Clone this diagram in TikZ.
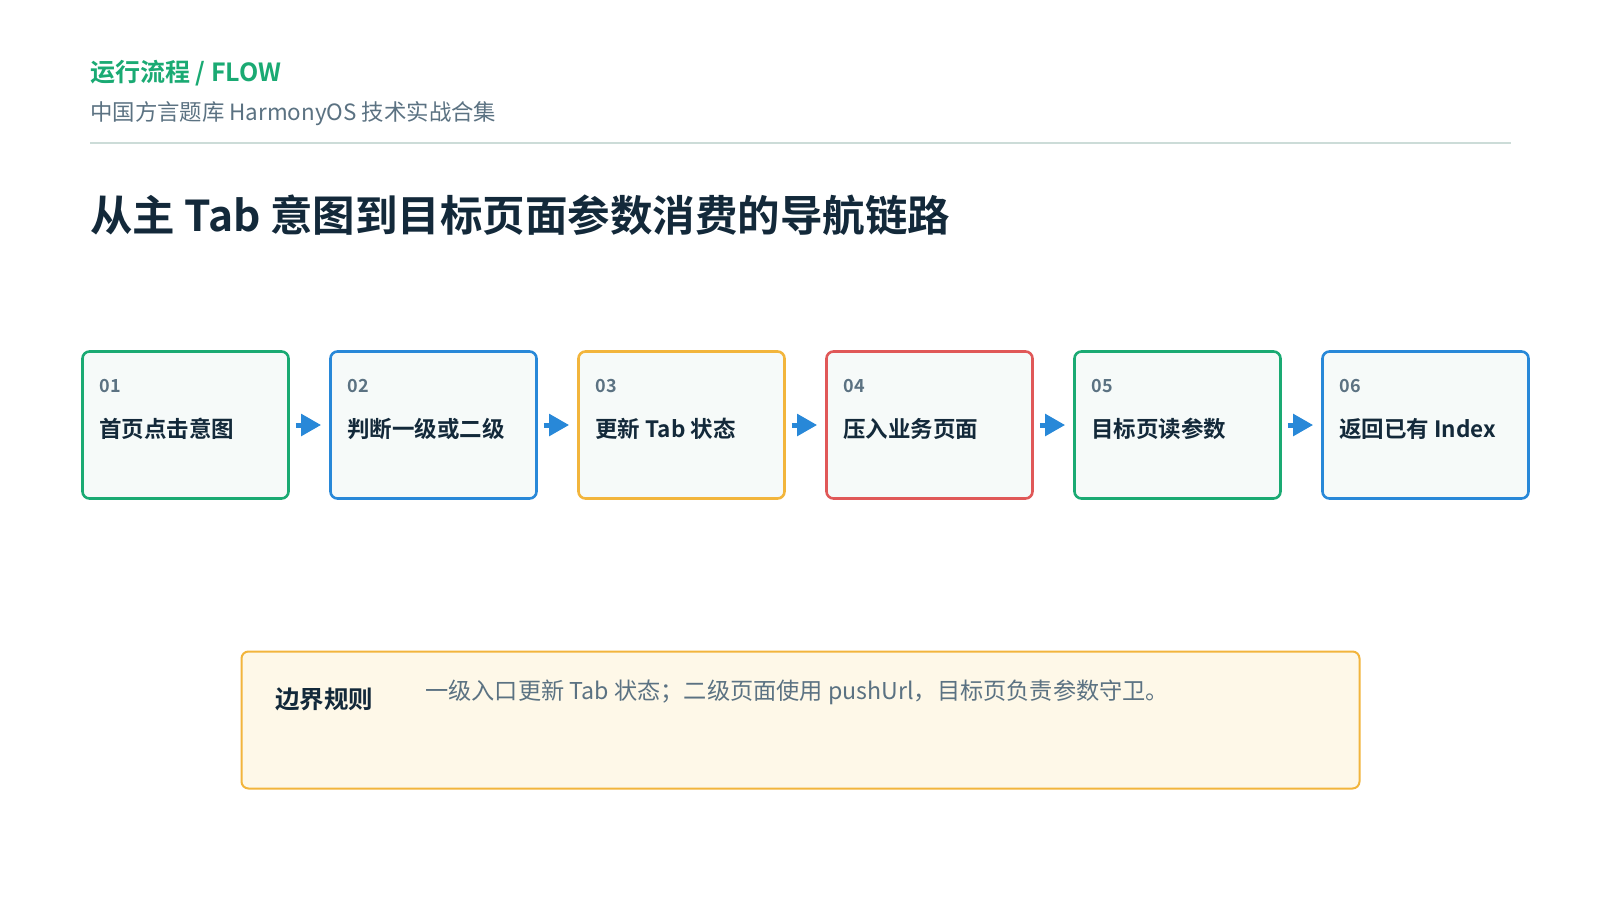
\documentclass[tikz,border=0pt]{standalone}
\usepackage{fontspec}
\setmainfont{Noto Sans CJK SC}
\newfontfamily\cjkb{Noto Sans CJK SC Bold}
\usetikzlibrary{arrows.meta,calc}
\definecolor{cgreen}{HTML}{1AAA73}
\definecolor{cblue}{HTML}{2888D8}
\definecolor{corange}{HTML}{F2B53C}
\definecolor{cred}{HTML}{E05858}
\definecolor{cdark}{HTML}{13293A}
\definecolor{cgrey}{HTML}{5B7282}
\definecolor{cline}{HTML}{CCDCD8}
\definecolor{cfill}{HTML}{F6FAF9}
\definecolor{ccream}{HTML}{FEF8E8}
\tikzset{
  x=1pt,y=-1pt,
  stepbox/.style={draw=#1,line width=2.6pt,fill=cfill,rounded corners=7pt,minimum width=206pt,minimum height=147pt,inner sep=0pt},
  numtxt/.style={anchor=west,font=\cjkb\fontsize{18}{20}\selectfont,text=cgrey,inner sep=0pt},
  steptxt/.style={anchor=west,font=\cjkb\fontsize{22.5}{24}\selectfont,text=cdark,inner sep=0pt},
  flowarrow/.style={draw=cblue,line width=5pt,-{Triangle[length=20pt,width=21pt]}}
}
\begin{document}
\begin{tikzpicture}
\useasboundingbox[fill=white] (0,0) rectangle (1600,900);
\node[anchor=west,inner sep=0pt,font=\cjkb\fontsize{25}{27}\selectfont,text=cgreen] (kicker) at (90,73) {运行流程 / FLOW};
\node[anchor=west,inner sep=0pt,font=\fontsize{22.4}{24}\selectfont,text=cgrey] (sub) at (90,114) {中国方言题库 HarmonyOS 技术实战合集};
\coordinate (l1) at (90,143);
\coordinate (l2) at (1511,143);
\draw[cline,line width=2pt] (l1) -- (l2);
\node[anchor=west,inner sep=0pt,font=\cjkb\fontsize{42.5}{46}\selectfont,text=cdark] (title) at (90,215) {从主 Tab 意图到目标页面参数消费的导航链路};
\foreach \i/\c/\t [count=\k from 0] in {01/cgreen/首页点击意图,02/cblue/判断一级或二级,03/corange/更新 Tab 状态,04/cred/压入业务页面,05/cgreen/目标页读参数,06/cblue/返回已有 Index}{
  \node[stepbox=\c] (b\i) at (185.5+248*\k,425) {};
  \node[numtxt] (n\i) at ($(b\i.west)+(18,-39)$) {\i};
  \node[steptxt] (t\i) at ($(b\i.west)+(18,4)$) {\t};
}
\foreach \a/\b in {01/02,02/03,03/04,04/05,05/06}{
  \draw[flowarrow] ($(b\a.east)+(6,0)$) -- ($(b\b.west)+(-8,0)$);
}
\node[draw=corange,line width=2pt,fill=ccream,rounded corners=7pt,minimum width=1118pt,minimum height=137pt,inner sep=0pt] (rule) at (800.5,720) {};
\node[anchor=west,inner sep=0pt,font=\cjkb\fontsize{24.5}{26}\selectfont,text=cdark] (rulehead) at (275,699) {边界规则};
\node[anchor=west,inner sep=0pt,font=\fontsize{23.2}{25}\selectfont,text=cgrey] (ruletext) at (425,692) {一级入口更新 Tab 状态；二级页面使用 pushUrl，目标页负责参数守卫。};
\end{tikzpicture}
\end{document}
